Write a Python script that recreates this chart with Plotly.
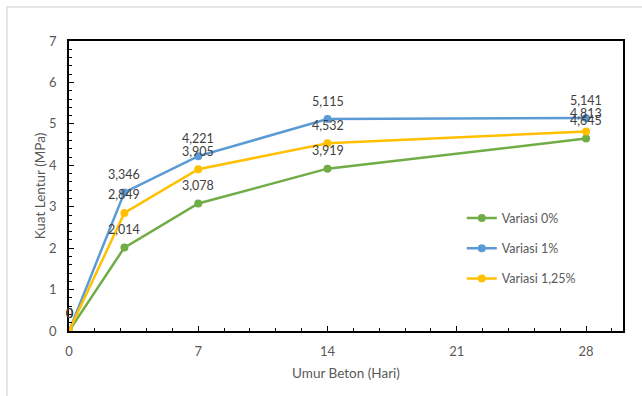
import plotly.graph_objects as go

# Umur beton (hari) dan kuat lentur (MPa)
umur = [0, 3, 7, 14, 28]
variasi_0 = [0, 2.014, 3.078, 3.919, 4.645]
variasi_1 = [0, 3.346, 4.221, 5.115, 5.141]
variasi_125 = [0, 2.849, 3.905, 4.532, 4.813]

series = [
    ("Variasi 0%", variasi_0, "#70AD47"),
    ("Variasi 1%", variasi_1, "#5B9BD5"),
    ("Variasi 1,25%", variasi_125, "#FFC000"),
]

FONT = "Lato, 'Open Sans', sans-serif"
GREY = "#595959"


def fmt(v):
    s = ("%.3f" % v).rstrip("0").rstrip(".")
    return s.replace(".", ",")


fig = go.Figure()
annotations = []
for i, (name, vals, color) in enumerate(series):
    fig.add_trace(go.Scatter(
        x=umur, y=vals, name=name, mode="lines+markers",
        line=dict(color=color, width=2.5),
        marker=dict(color=color, size=8),
        legendgroup=str(i),
    ))
    for xv, yv in zip(umur, vals):
        annotations.append(dict(
            x=xv, y=yv, text=fmt(yv), showarrow=False, yshift=18,
            font=dict(family=FONT, size=12.5, color="#404040"),
        ))

fig.update_layout(
    width=642, height=396,
    margin=dict(l=69, r=19, t=41, b=65),
    paper_bgcolor="white", plot_bgcolor="white",
    font=dict(family=FONT, size=13, color=GREY),
    annotations=annotations,
    showlegend=True,
    legend=dict(
        x=0.709, y=0.44, xanchor="left", yanchor="top",
        bgcolor="rgba(0,0,0,0)", tracegroupgap=11,
        font=dict(family=FONT, size=12.5, color=GREY),
    ),
    shapes=[
        dict(type="rect", xref="paper", yref="paper",
             x0=-0.112, y0=-0.3, x1=1.2, y1=1.117,
             line=dict(color="#DDDDDD", width=1.5), layer="below"),
    ],
)

fig.update_xaxes(
    range=[0, 30], tickmode="array", tickvals=[0, 7, 14, 21, 28],
    showgrid=False, zeroline=False,
    showline=True, linecolor="black", linewidth=1.5, mirror=True,
    ticks="inside", ticklen=5, tickcolor="black", ticklabelstandoff=8,
    minor=dict(dtick=1.4, tick0=0, ticks="inside", ticklen=3, tickcolor="black"),
    title=dict(text="Umur Beton (Hari)", font=dict(family=FONT, size=13.5, color=GREY), standoff=10),
    tickfont=dict(family=FONT, size=13, color=GREY),
)
fig.update_yaxes(
    range=[0, 7], dtick=1, tick0=0,
    showgrid=False, zeroline=False,
    showline=True, linecolor="black", linewidth=1.5, mirror=True,
    ticks="inside", ticklen=5, tickcolor="black", ticklabelstandoff=8,
    minor=dict(dtick=0.2, tick0=0, ticks="inside", ticklen=3, tickcolor="black"),
    title=dict(text="Kuat Lentur (MPa)", font=dict(family=FONT, size=13.5, color=GREY), standoff=0),
    tickfont=dict(family=FONT, size=13, color=GREY),
)

fig.write_html("out.html")
